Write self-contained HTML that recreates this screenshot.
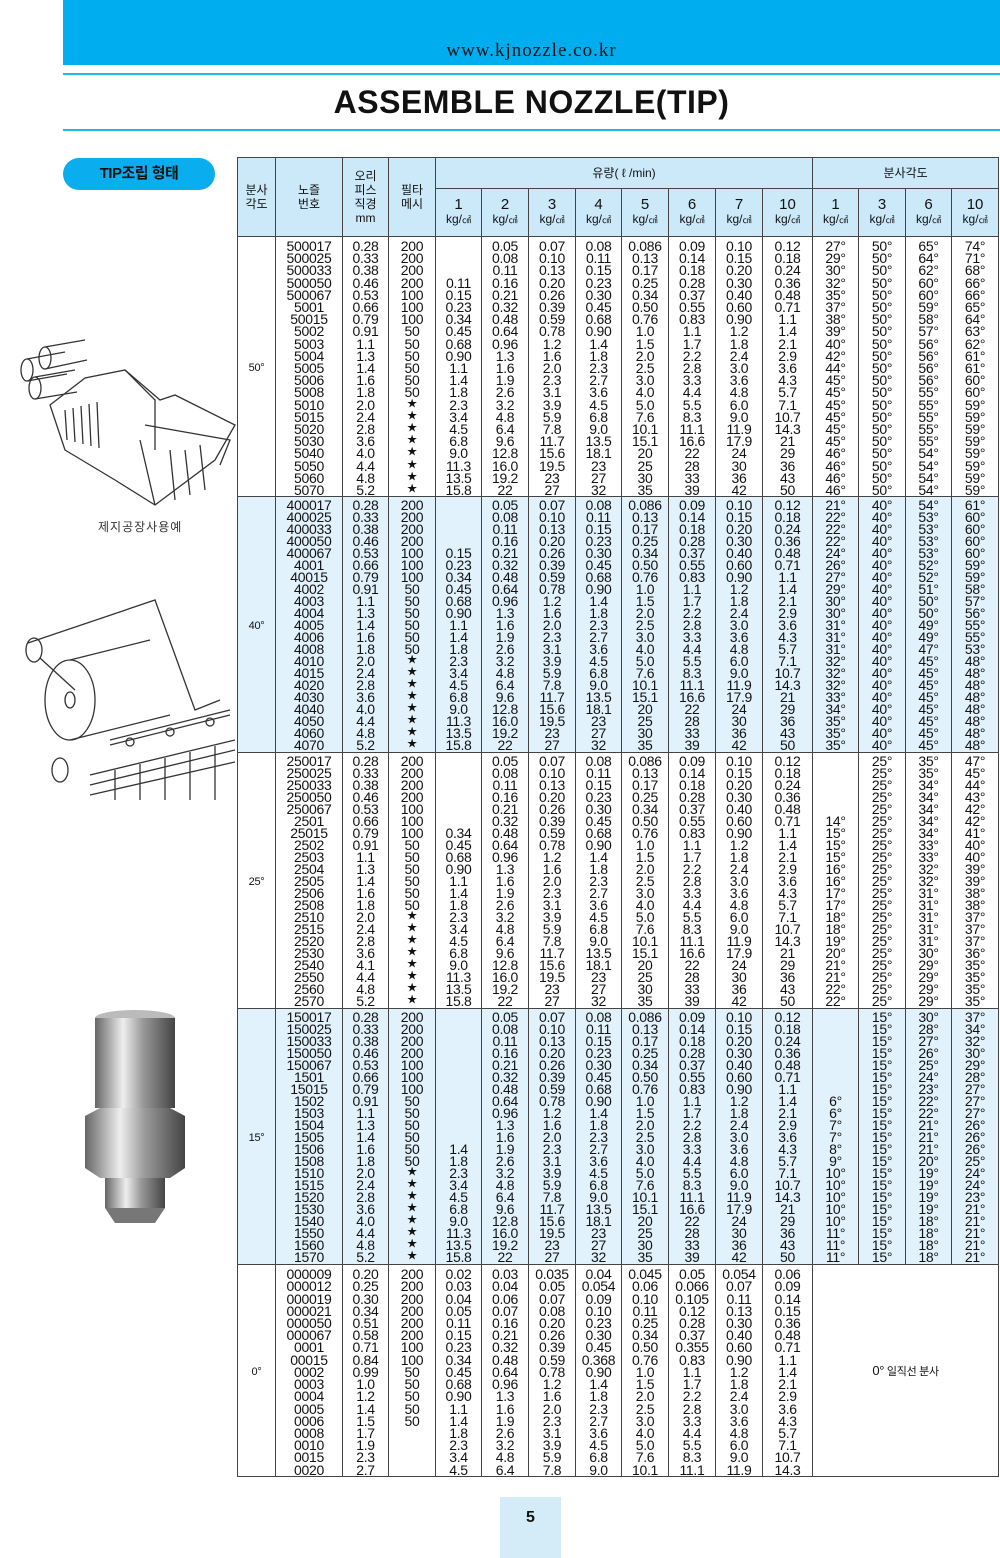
<!DOCTYPE html>
<html><head><meta charset="utf-8">
<style>
*{margin:0;padding:0;box-sizing:border-box}
body{width:1000px;height:1558px;background:#fff;position:relative;overflow:hidden;font-family:"Liberation Sans Narrow","Liberation Sans","Noto Sans CJK KR",sans-serif;color:#111}
.band{position:absolute;left:63px;top:0;width:937px;height:65px;background:#00adef}
.url{position:absolute;left:63px;width:937px;top:40px;text-align:center;font-family:"Liberation Serif",serif;font-size:19px;letter-spacing:1px;color:#111}
.ln{position:absolute;left:63px;width:937px;height:2px;background:#29b5ec}
.title{position:absolute;left:63px;width:937px;top:84px;text-align:center;font-family:"Liberation Sans",sans-serif;font-weight:bold;font-size:32px;letter-spacing:0.5px}
.pill{position:absolute;left:63px;top:158px;width:152px;height:32px;border-radius:16px;background:#0aaeef;color:#111;font-family:"Liberation Sans","Noto Sans CJK KR",sans-serif;font-weight:bold;font-size:15px;text-align:center;line-height:32px;letter-spacing:-0.5px}
table{position:absolute;left:237px;top:157px;border-collapse:collapse;table-layout:fixed;width:761px}
td,th{border:1.3px solid #444;padding:0;vertical-align:top;text-align:center;overflow:hidden}
th{background:#cbe9f9;font-weight:normal;font-family:"Liberation Sans","Noto Sans CJK KR",sans-serif;font-size:12px;line-height:14px;vertical-align:middle}
th b{font-size:15px;font-weight:normal}
th small{font-size:9px}
td{font-size:14px;line-height:12px;padding-top:2px;letter-spacing:-0.3px}
tr.a td{line-height:12.2px;padding-top:3px}
td.ang{vertical-align:middle;font-size:11px;font-family:"Liberation Sans",sans-serif}
tr.b td{background:#e2f2fc}
.st{display:inline-block;height:12px;line-height:12px;vertical-align:top;font-size:10px;overflow:hidden}
.pg{position:absolute;left:500px;top:1497px;width:61px;height:61px;background:#d3ecf8;text-align:center;font-family:"Liberation Sans",sans-serif;font-weight:bold;font-size:16px;padding-top:12px}
.cap{position:absolute;left:98px;top:518px;font-size:12px;font-family:"Noto Sans CJK KR",sans-serif;color:#333;letter-spacing:1px}
svg{position:absolute}
</style></head><body>
<div class="band"></div>
<div class="url">www.kjnozzle.co.kr</div>
<div class="ln" style="top:73px"></div>
<div class="title">ASSEMBLE NOZZLE(TIP)</div>
<div class="ln" style="top:129px"></div>
<div class="pill">TIP조립 형태</div>

<svg style="left:5px;top:330px" width="235" height="180" viewBox="0 0 235 180" fill="none" stroke="#333" stroke-width="1.3">
<ellipse cx="40" cy="28" rx="6" ry="11"/><path d="M40 17 L80 10 M40 39 L82 30"/><ellipse cx="22" cy="40" rx="6" ry="11"/><path d="M22 29 L60 22 M22 51 L62 44"/>
<ellipse cx="30" cy="58" rx="6" ry="11"/><path d="M30 47 L70 40 M30 69 L72 62"/>
<path d="M45 75 L80 48 L120 40 L155 70 L170 65 L230 95 L210 130 L150 175 L110 150 L60 120 Z"/>
<path d="M120 40 L150 70 L150 120 M140 95 L225 110 L215 135 M135 110 L150 175 M165 120 L170 170 M180 120 L185 165 M195 115 L200 160"/>
<path d="M60 80 L62 110 M68 78 L70 112 M76 76 L78 114 M84 74 L86 116 M92 72 L94 118"/>
</svg>
<div class="cap">제지공장사용예</div>

<svg style="left:20px;top:590px" width="215" height="210" viewBox="0 0 215 210" fill="none" stroke="#333" stroke-width="1.3">
<path d="M8 53 L135 10 L175 120 L200 110"/><ellipse cx="14" cy="60" rx="8" ry="12"/><path d="M20 68 L55 100"/>
<ellipse cx="50" cy="110" rx="25" ry="40"/><ellipse cx="50" cy="110" rx="5" ry="8"/><path d="M50 70 L130 50 M50 150 L150 125"/>
<path d="M90 150 L210 120 M90 155 L210 125"/><circle cx="110" cy="152" r="4"/><circle cx="150" cy="142" r="4"/><circle cx="190" cy="132" r="4"/>
<path d="M70 185 L215 150 M70 195 L215 160 M70 205 L215 172 M95 180 L95 210 M120 174 L120 210 M145 168 L145 210 M170 162 L170 210 M195 156 L195 210"/>
<ellipse cx="40" cy="180" rx="8" ry="12"/>
</svg>

<svg style="left:80px;top:1008px" width="110" height="220" viewBox="0 0 110 220">
<defs><linearGradient id="g" x1="0" x2="1"><stop offset="0" stop-color="#666"/><stop offset=".35" stop-color="#eee"/><stop offset=".6" stop-color="#999"/><stop offset="1" stop-color="#444"/></linearGradient></defs>
<ellipse cx="55" cy="10" rx="40" ry="8" fill="#bbb"/>
<rect x="15" y="10" width="80" height="90" fill="url(#g)"/>
<path d="M5 108 L20 100 L90 100 L105 108 L105 160 L90 170 L20 170 L5 160 Z" fill="url(#g)"/>
<rect x="25" y="170" width="60" height="30" fill="url(#g)"/>
<path d="M25 200 L85 200 L75 215 L35 215 Z" fill="#777"/>
</svg>

<table>
<colgroup><col style="width:38px"><col style="width:67px"><col style="width:46px"><col style="width:47px"><col style="width:46px"><col style="width:47px"><col style="width:47px"><col style="width:46px"><col style="width:47px"><col style="width:47px"><col style="width:47px"><col style="width:50px"><col style="width:46px"><col style="width:47px"><col style="width:46px"><col style="width:47px"></colgroup>
<tr style="height:31px"><th rowspan="2">분사<br>각도</th><th rowspan="2">노즐<br>번호</th><th rowspan="2">오리<br>피스<br>직경<br>mm</th><th rowspan="2">필타<br>메시</th><th colspan="8">유량( ℓ /min)</th><th colspan="4">분사각도</th></tr>
<tr style="height:48px"><th><b>1</b><br>kg/<small>㎠</small></th><th><b>2</b><br>kg/<small>㎠</small></th><th><b>3</b><br>kg/<small>㎠</small></th><th><b>4</b><br>kg/<small>㎠</small></th><th><b>5</b><br>kg/<small>㎠</small></th><th><b>6</b><br>kg/<small>㎠</small></th><th><b>7</b><br>kg/<small>㎠</small></th><th><b>10</b><br>kg/<small>㎠</small></th><th><b>1</b><br>kg/<small>㎠</small></th><th><b>3</b><br>kg/<small>㎠</small></th><th><b>6</b><br>kg/<small>㎠</small></th><th><b>10</b><br>kg/<small>㎠</small></th></tr>

<tr class="a" style="height:260px"><td class="ang">50°</td>
<td>500017<br>500025<br>500033<br>500050<br>500067<br>5001<br>50015<br>5002<br>5003<br>5004<br>5005<br>5006<br>5008<br>5010<br>5015<br>5020<br>5030<br>5040<br>5050<br>5060<br>5070</td>
<td>0.28<br>0.33<br>0.38<br>0.46<br>0.53<br>0.66<br>0.79<br>0.91<br>1.1<br>1.3<br>1.4<br>1.6<br>1.8<br>2.0<br>2.4<br>2.8<br>3.6<br>4.0<br>4.4<br>4.8<br>5.2</td>
<td>200<br>200<br>200<br>200<br>100<br>100<br>100<br>50<br>50<br>50<br>50<br>50<br>50<br><span class="st">★</span><br><span class="st">★</span><br><span class="st">★</span><br><span class="st">★</span><br><span class="st">★</span><br><span class="st">★</span><br><span class="st">★</span><br><span class="st">★</span></td>
<td><br><br><br>0.11<br>0.15<br>0.23<br>0.34<br>0.45<br>0.68<br>0.90<br>1.1<br>1.4<br>1.8<br>2.3<br>3.4<br>4.5<br>6.8<br>9.0<br>11.3<br>13.5<br>15.8</td>
<td>0.05<br>0.08<br>0.11<br>0.16<br>0.21<br>0.32<br>0.48<br>0.64<br>0.96<br>1.3<br>1.6<br>1.9<br>2.6<br>3.2<br>4.8<br>6.4<br>9.6<br>12.8<br>16.0<br>19.2<br>22</td>
<td>0.07<br>0.10<br>0.13<br>0.20<br>0.26<br>0.39<br>0.59<br>0.78<br>1.2<br>1.6<br>2.0<br>2.3<br>3.1<br>3.9<br>5.9<br>7.8<br>11.7<br>15.6<br>19.5<br>23<br>27</td>
<td>0.08<br>0.11<br>0.15<br>0.23<br>0.30<br>0.45<br>0.68<br>0.90<br>1.4<br>1.8<br>2.3<br>2.7<br>3.6<br>4.5<br>6.8<br>9.0<br>13.5<br>18.1<br>23<br>27<br>32</td>
<td>0.086<br>0.13<br>0.17<br>0.25<br>0.34<br>0.50<br>0.76<br>1.0<br>1.5<br>2.0<br>2.5<br>3.0<br>4.0<br>5.0<br>7.6<br>10.1<br>15.1<br>20<br>25<br>30<br>35</td>
<td>0.09<br>0.14<br>0.18<br>0.28<br>0.37<br>0.55<br>0.83<br>1.1<br>1.7<br>2.2<br>2.8<br>3.3<br>4.4<br>5.5<br>8.3<br>11.1<br>16.6<br>22<br>28<br>33<br>39</td>
<td>0.10<br>0.15<br>0.20<br>0.30<br>0.40<br>0.60<br>0.90<br>1.2<br>1.8<br>2.4<br>3.0<br>3.6<br>4.8<br>6.0<br>9.0<br>11.9<br>17.9<br>24<br>30<br>36<br>42</td>
<td>0.12<br>0.18<br>0.24<br>0.36<br>0.48<br>0.71<br>1.1<br>1.4<br>2.1<br>2.9<br>3.6<br>4.3<br>5.7<br>7.1<br>10.7<br>14.3<br>21<br>29<br>36<br>43<br>50</td>
<td>27°<br>29°<br>30°<br>32°<br>35°<br>37°<br>38°<br>39°<br>40°<br>42°<br>44°<br>45°<br>45°<br>45°<br>45°<br>45°<br>45°<br>46°<br>46°<br>46°<br>46°</td>
<td>50°<br>50°<br>50°<br>50°<br>50°<br>50°<br>50°<br>50°<br>50°<br>50°<br>50°<br>50°<br>50°<br>50°<br>50°<br>50°<br>50°<br>50°<br>50°<br>50°<br>50°</td>
<td>65°<br>64°<br>62°<br>60°<br>60°<br>59°<br>58°<br>57°<br>56°<br>56°<br>56°<br>56°<br>55°<br>55°<br>55°<br>55°<br>55°<br>54°<br>54°<br>54°<br>54°</td>
<td>74°<br>71°<br>68°<br>66°<br>66°<br>65°<br>64°<br>63°<br>62°<br>61°<br>61°<br>60°<br>60°<br>59°<br>59°<br>59°<br>59°<br>59°<br>59°<br>59°<br>59°</td></tr>

<tr class="b" style="height:256px"><td class="ang">40°</td>
<td>400017<br>400025<br>400033<br>400050<br>400067<br>4001<br>40015<br>4002<br>4003<br>4004<br>4005<br>4006<br>4008<br>4010<br>4015<br>4020<br>4030<br>4040<br>4050<br>4060<br>4070</td>
<td>0.28<br>0.33<br>0.38<br>0.46<br>0.53<br>0.66<br>0.79<br>0.91<br>1.1<br>1.3<br>1.4<br>1.6<br>1.8<br>2.0<br>2.4<br>2.8<br>3.6<br>4.0<br>4.4<br>4.8<br>5.2</td>
<td>200<br>200<br>200<br>200<br>100<br>100<br>100<br>50<br>50<br>50<br>50<br>50<br>50<br><span class="st">★</span><br><span class="st">★</span><br><span class="st">★</span><br><span class="st">★</span><br><span class="st">★</span><br><span class="st">★</span><br><span class="st">★</span><br><span class="st">★</span></td>
<td><br><br><br><br>0.15<br>0.23<br>0.34<br>0.45<br>0.68<br>0.90<br>1.1<br>1.4<br>1.8<br>2.3<br>3.4<br>4.5<br>6.8<br>9.0<br>11.3<br>13.5<br>15.8</td>
<td>0.05<br>0.08<br>0.11<br>0.16<br>0.21<br>0.32<br>0.48<br>0.64<br>0.96<br>1.3<br>1.6<br>1.9<br>2.6<br>3.2<br>4.8<br>6.4<br>9.6<br>12.8<br>16.0<br>19.2<br>22</td>
<td>0.07<br>0.10<br>0.13<br>0.20<br>0.26<br>0.39<br>0.59<br>0.78<br>1.2<br>1.6<br>2.0<br>2.3<br>3.1<br>3.9<br>5.9<br>7.8<br>11.7<br>15.6<br>19.5<br>23<br>27</td>
<td>0.08<br>0.11<br>0.15<br>0.23<br>0.30<br>0.45<br>0.68<br>0.90<br>1.4<br>1.8<br>2.3<br>2.7<br>3.6<br>4.5<br>6.8<br>9.0<br>13.5<br>18.1<br>23<br>27<br>32</td>
<td>0.086<br>0.13<br>0.17<br>0.25<br>0.34<br>0.50<br>0.76<br>1.0<br>1.5<br>2.0<br>2.5<br>3.0<br>4.0<br>5.0<br>7.6<br>10.1<br>15.1<br>20<br>25<br>30<br>35</td>
<td>0.09<br>0.14<br>0.18<br>0.28<br>0.37<br>0.55<br>0.83<br>1.1<br>1.7<br>2.2<br>2.8<br>3.3<br>4.4<br>5.5<br>8.3<br>11.1<br>16.6<br>22<br>28<br>33<br>39</td>
<td>0.10<br>0.15<br>0.20<br>0.30<br>0.40<br>0.60<br>0.90<br>1.2<br>1.8<br>2.4<br>3.0<br>3.6<br>4.8<br>6.0<br>9.0<br>11.9<br>17.9<br>24<br>30<br>36<br>42</td>
<td>0.12<br>0.18<br>0.24<br>0.36<br>0.48<br>0.71<br>1.1<br>1.4<br>2.1<br>2.9<br>3.6<br>4.3<br>5.7<br>7.1<br>10.7<br>14.3<br>21<br>29<br>36<br>43<br>50</td>
<td>21°<br>22°<br>22°<br>22°<br>24°<br>26°<br>27°<br>29°<br>30°<br>30°<br>31°<br>31°<br>31°<br>32°<br>32°<br>32°<br>33°<br>34°<br>35°<br>35°<br>35°</td>
<td>40°<br>40°<br>40°<br>40°<br>40°<br>40°<br>40°<br>40°<br>40°<br>40°<br>40°<br>40°<br>40°<br>40°<br>40°<br>40°<br>40°<br>40°<br>40°<br>40°<br>40°</td>
<td>54°<br>53°<br>53°<br>53°<br>53°<br>52°<br>52°<br>51°<br>50°<br>50°<br>49°<br>49°<br>47°<br>45°<br>45°<br>45°<br>45°<br>45°<br>45°<br>45°<br>45°</td>
<td>61°<br>60°<br>60°<br>60°<br>60°<br>59°<br>59°<br>58°<br>57°<br>56°<br>55°<br>55°<br>53°<br>48°<br>48°<br>48°<br>48°<br>48°<br>48°<br>48°<br>48°</td></tr>

<tr style="height:256px"><td class="ang">25°</td>
<td>250017<br>250025<br>250033<br>250050<br>250067<br>2501<br>25015<br>2502<br>2503<br>2504<br>2505<br>2506<br>2508<br>2510<br>2515<br>2520<br>2530<br>2540<br>2550<br>2560<br>2570</td>
<td>0.28<br>0.33<br>0.38<br>0.46<br>0.53<br>0.66<br>0.79<br>0.91<br>1.1<br>1.3<br>1.4<br>1.6<br>1.8<br>2.0<br>2.4<br>2.8<br>3.6<br>4.1<br>4.4<br>4.8<br>5.2</td>
<td>200<br>200<br>200<br>200<br>100<br>100<br>100<br>50<br>50<br>50<br>50<br>50<br>50<br><span class="st">★</span><br><span class="st">★</span><br><span class="st">★</span><br><span class="st">★</span><br><span class="st">★</span><br><span class="st">★</span><br><span class="st">★</span><br><span class="st">★</span></td>
<td><br><br><br><br><br><br>0.34<br>0.45<br>0.68<br>0.90<br>1.1<br>1.4<br>1.8<br>2.3<br>3.4<br>4.5<br>6.8<br>9.0<br>11.3<br>13.5<br>15.8</td>
<td>0.05<br>0.08<br>0.11<br>0.16<br>0.21<br>0.32<br>0.48<br>0.64<br>0.96<br>1.3<br>1.6<br>1.9<br>2.6<br>3.2<br>4.8<br>6.4<br>9.6<br>12.8<br>16.0<br>19.2<br>22</td>
<td>0.07<br>0.10<br>0.13<br>0.20<br>0.26<br>0.39<br>0.59<br>0.78<br>1.2<br>1.6<br>2.0<br>2.3<br>3.1<br>3.9<br>5.9<br>7.8<br>11.7<br>15.6<br>19.5<br>23<br>27</td>
<td>0.08<br>0.11<br>0.15<br>0.23<br>0.30<br>0.45<br>0.68<br>0.90<br>1.4<br>1.8<br>2.3<br>2.7<br>3.6<br>4.5<br>6.8<br>9.0<br>13.5<br>18.1<br>23<br>27<br>32</td>
<td>0.086<br>0.13<br>0.17<br>0.25<br>0.34<br>0.50<br>0.76<br>1.0<br>1.5<br>2.0<br>2.5<br>3.0<br>4.0<br>5.0<br>7.6<br>10.1<br>15.1<br>20<br>25<br>30<br>35</td>
<td>0.09<br>0.14<br>0.18<br>0.28<br>0.37<br>0.55<br>0.83<br>1.1<br>1.7<br>2.2<br>2.8<br>3.3<br>4.4<br>5.5<br>8.3<br>11.1<br>16.6<br>22<br>28<br>33<br>39</td>
<td>0.10<br>0.15<br>0.20<br>0.30<br>0.40<br>0.60<br>0.90<br>1.2<br>1.8<br>2.4<br>3.0<br>3.6<br>4.8<br>6.0<br>9.0<br>11.9<br>17.9<br>24<br>30<br>36<br>42</td>
<td>0.12<br>0.18<br>0.24<br>0.36<br>0.48<br>0.71<br>1.1<br>1.4<br>2.1<br>2.9<br>3.6<br>4.3<br>5.7<br>7.1<br>10.7<br>14.3<br>21<br>29<br>36<br>43<br>50</td>
<td><br><br><br><br><br>14°<br>15°<br>15°<br>15°<br>16°<br>16°<br>17°<br>17°<br>18°<br>18°<br>19°<br>20°<br>21°<br>21°<br>22°<br>22°</td>
<td>25°<br>25°<br>25°<br>25°<br>25°<br>25°<br>25°<br>25°<br>25°<br>25°<br>25°<br>25°<br>25°<br>25°<br>25°<br>25°<br>25°<br>25°<br>25°<br>25°<br>25°</td>
<td>35°<br>35°<br>34°<br>34°<br>34°<br>34°<br>34°<br>33°<br>33°<br>32°<br>32°<br>31°<br>31°<br>31°<br>31°<br>31°<br>30°<br>29°<br>29°<br>29°<br>29°</td>
<td>47°<br>45°<br>44°<br>43°<br>42°<br>42°<br>41°<br>40°<br>40°<br>39°<br>39°<br>38°<br>38°<br>37°<br>37°<br>37°<br>36°<br>35°<br>35°<br>35°<br>35°</td></tr>

<tr class="b" style="height:256px"><td class="ang">15°</td>
<td>150017<br>150025<br>150033<br>150050<br>150067<br>1501<br>15015<br>1502<br>1503<br>1504<br>1505<br>1506<br>1508<br>1510<br>1515<br>1520<br>1530<br>1540<br>1550<br>1560<br>1570</td>
<td>0.28<br>0.33<br>0.38<br>0.46<br>0.53<br>0.66<br>0.79<br>0.91<br>1.1<br>1.3<br>1.4<br>1.6<br>1.8<br>2.0<br>2.4<br>2.8<br>3.6<br>4.0<br>4.4<br>4.8<br>5.2</td>
<td>200<br>200<br>200<br>200<br>100<br>100<br>100<br>50<br>50<br>50<br>50<br>50<br>50<br><span class="st">★</span><br><span class="st">★</span><br><span class="st">★</span><br><span class="st">★</span><br><span class="st">★</span><br><span class="st">★</span><br><span class="st">★</span><br><span class="st">★</span></td>
<td><br><br><br><br><br><br><br><br><br><br><br>1.4<br>1.8<br>2.3<br>3.4<br>4.5<br>6.8<br>9.0<br>11.3<br>13.5<br>15.8</td>
<td>0.05<br>0.08<br>0.11<br>0.16<br>0.21<br>0.32<br>0.48<br>0.64<br>0.96<br>1.3<br>1.6<br>1.9<br>2.6<br>3.2<br>4.8<br>6.4<br>9.6<br>12.8<br>16.0<br>19.2<br>22</td>
<td>0.07<br>0.10<br>0.13<br>0.20<br>0.26<br>0.39<br>0.59<br>0.78<br>1.2<br>1.6<br>2.0<br>2.3<br>3.1<br>3.9<br>5.9<br>7.8<br>11.7<br>15.6<br>19.5<br>23<br>27</td>
<td>0.08<br>0.11<br>0.15<br>0.23<br>0.30<br>0.45<br>0.68<br>0.90<br>1.4<br>1.8<br>2.3<br>2.7<br>3.6<br>4.5<br>6.8<br>9.0<br>13.5<br>18.1<br>23<br>27<br>32</td>
<td>0.086<br>0.13<br>0.17<br>0.25<br>0.34<br>0.50<br>0.76<br>1.0<br>1.5<br>2.0<br>2.5<br>3.0<br>4.0<br>5.0<br>7.6<br>10.1<br>15.1<br>20<br>25<br>30<br>35</td>
<td>0.09<br>0.14<br>0.18<br>0.28<br>0.37<br>0.55<br>0.83<br>1.1<br>1.7<br>2.2<br>2.8<br>3.3<br>4.4<br>5.5<br>8.3<br>11.1<br>16.6<br>22<br>28<br>33<br>39</td>
<td>0.10<br>0.15<br>0.20<br>0.30<br>0.40<br>0.60<br>0.90<br>1.2<br>1.8<br>2.4<br>3.0<br>3.6<br>4.8<br>6.0<br>9.0<br>11.9<br>17.9<br>24<br>30<br>36<br>42</td>
<td>0.12<br>0.18<br>0.24<br>0.36<br>0.48<br>0.71<br>1.1<br>1.4<br>2.1<br>2.9<br>3.6<br>4.3<br>5.7<br>7.1<br>10.7<br>14.3<br>21<br>29<br>36<br>43<br>50</td>
<td><br><br><br><br><br><br><br>6°<br>6°<br>7°<br>7°<br>8°<br>9°<br>10°<br>10°<br>10°<br>10°<br>10°<br>11°<br>11°<br>11°</td>
<td>15°<br>15°<br>15°<br>15°<br>15°<br>15°<br>15°<br>15°<br>15°<br>15°<br>15°<br>15°<br>15°<br>15°<br>15°<br>15°<br>15°<br>15°<br>15°<br>15°<br>15°</td>
<td>30°<br>28°<br>27°<br>26°<br>25°<br>24°<br>23°<br>22°<br>22°<br>21°<br>21°<br>21°<br>20°<br>19°<br>19°<br>19°<br>19°<br>18°<br>18°<br>18°<br>18°</td>
<td>37°<br>34°<br>32°<br>30°<br>29°<br>28°<br>27°<br>27°<br>27°<br>26°<br>26°<br>26°<br>25°<br>24°<br>24°<br>23°<br>21°<br>21°<br>21°<br>21°<br>21°</td></tr>

<tr class="a" style="height:211px"><td class="ang">0°</td>
<td>000009<br>000012<br>000019<br>000021<br>000050<br>000067<br>0001<br>00015<br>0002<br>0003<br>0004<br>0005<br>0006<br>0008<br>0010<br>0015<br>0020</td>
<td>0.20<br>0.25<br>0.30<br>0.34<br>0.51<br>0.58<br>0.71<br>0.84<br>0.99<br>1.0<br>1.2<br>1.4<br>1.5<br>1.7<br>1.9<br>2.3<br>2.7</td>
<td>200<br>200<br>200<br>200<br>200<br>200<br>100<br>100<br>50<br>50<br>50<br>50<br>50</td>
<td>0.02<br>0.03<br>0.04<br>0.05<br>0.11<br>0.15<br>0.23<br>0.34<br>0.45<br>0.68<br>0.90<br>1.1<br>1.4<br>1.8<br>2.3<br>3.4<br>4.5</td>
<td>0.03<br>0.04<br>0.06<br>0.07<br>0.16<br>0.21<br>0.32<br>0.48<br>0.64<br>0.96<br>1.3<br>1.6<br>1.9<br>2.6<br>3.2<br>4.8<br>6.4</td>
<td>0.035<br>0.05<br>0.07<br>0.08<br>0.20<br>0.26<br>0.39<br>0.59<br>0.78<br>1.2<br>1.6<br>2.0<br>2.3<br>3.1<br>3.9<br>5.9<br>7.8</td>
<td>0.04<br>0.054<br>0.09<br>0.10<br>0.23<br>0.30<br>0.45<br>0.368<br>0.90<br>1.4<br>1.8<br>2.3<br>2.7<br>3.6<br>4.5<br>6.8<br>9.0</td>
<td>0.045<br>0.06<br>0.10<br>0.11<br>0.25<br>0.34<br>0.50<br>0.76<br>1.0<br>1.5<br>2.0<br>2.5<br>3.0<br>4.0<br>5.0<br>7.6<br>10.1</td>
<td>0.05<br>0.066<br>0.105<br>0.12<br>0.28<br>0.37<br>0.355<br>0.83<br>1.1<br>1.7<br>2.2<br>2.8<br>3.3<br>4.4<br>5.5<br>8.3<br>11.1</td>
<td>0.054<br>0.07<br>0.11<br>0.13<br>0.30<br>0.40<br>0.60<br>0.90<br>1.2<br>1.8<br>2.4<br>3.0<br>3.6<br>4.8<br>6.0<br>9.0<br>11.9</td>
<td>0.06<br>0.09<br>0.14<br>0.15<br>0.36<br>0.48<br>0.71<br>1.1<br>1.4<br>2.1<br>2.9<br>3.6<br>4.3<br>5.7<br>7.1<br>10.7<br>14.3</td>
<td colspan="4" class="ang" style="font-family:'Liberation Sans','Noto Sans CJK KR',sans-serif;font-size:11px"><span style="font-size:13px">0°</span> 일직선 분사</td></tr>
</table>

<div class="pg">5</div>
</body></html>
